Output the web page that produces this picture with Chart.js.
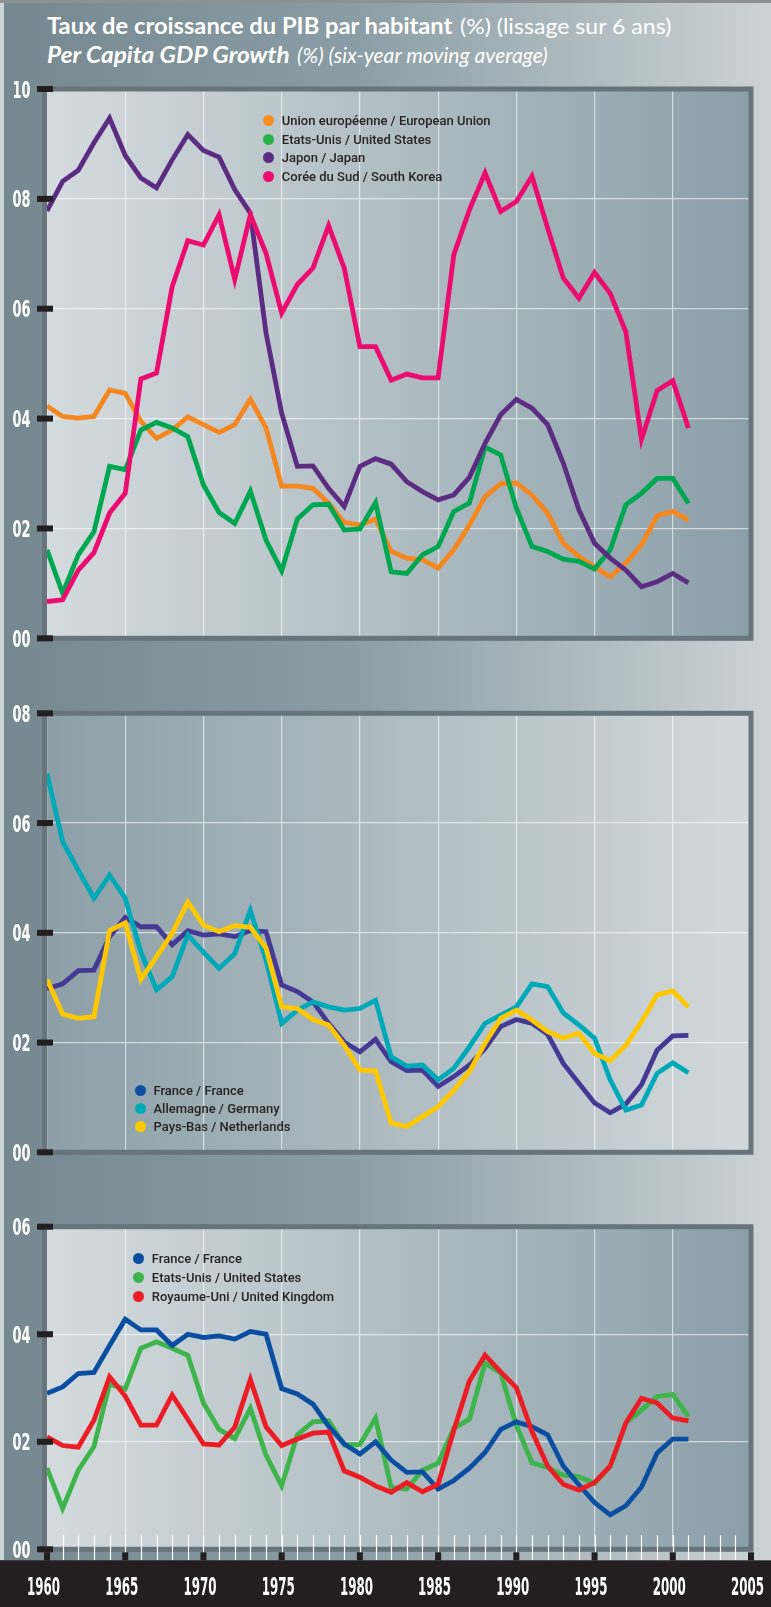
<!DOCTYPE html>
<html>
<head>
<meta charset="utf-8">
<script src="https://cdn.jsdelivr.net/npm/chart.js"></script>
<style>
  body { margin: 0; }
  #page {
    position: relative; width: 771px; height: 1607px; overflow: hidden;
    background: linear-gradient(to right, #75878f 0%, #8a9ca4 45%, #aebac0 75%, #cbd3d6 100%);
  }
  #topline { position: absolute; left: 0; top: 0; width: 771px; height: 3px; background: #8b9194; }
  #leftstrip { position: absolute; left: 0; top: 3px; width: 4px; height: 1557px; background: #cdd4d7; }
  .t { position: absolute; color: #fff; font-family: Lato, "Open Sans", sans-serif; font-size: 22px;
       line-height: 22px; white-space: nowrap; transform-origin: 0 0; }
  canvas { position: absolute; left: 0; }
  .lg { position: absolute; height: 18px; line-height: 18px; white-space: nowrap;
        font-family: Roboto, "Open Sans", sans-serif; font-weight: 500; font-size: 13px; color: #262425; }
  .lg span.dot { display: inline-block; width: 11px; height: 11px; border-radius: 50%;
                 vertical-align: -1px; margin-right: 8px; }
</style>
</head>
<body>
<div id="page">
  <div id="topline"></div>
  <div id="leftstrip"></div>
  <div class="t" id="t1" style="left:47px;top:15px;font-weight:700">Taux de croissance du PIB par habitant</div>
  <div class="t" id="t2" style="left:460px;top:15px;font-weight:400">(%) (lissage sur 6 ans)</div>
  <div class="t" id="t3" style="left:47px;top:44px;font-weight:700;font-style:italic">Per Capita GDP Growth</div>
  <div class="t" id="t4" style="left:297px;top:44px;font-weight:400;font-style:italic">(%) (six-year moving average)</div>
  <canvas id="chart1" width="771" height="610" style="top:60px"></canvas>
  <canvas id="chart2" width="771" height="510" style="top:670px"></canvas>
  <canvas id="chart3" width="771" height="427" style="top:1180px"></canvas>
</div>
<script>
// years shown on the x axis (data runs 1960-2001)
var years = [1960, 1961, 1962, 1963, 1964, 1965, 1966, 1967, 1968, 1969,
  1970, 1971, 1972, 1973, 1974, 1975, 1976, 1977, 1978, 1979,
  1980, 1981, 1982, 1983, 1984, 1985, 1986, 1987, 1988, 1989,
  1990, 1991, 1992, 1993, 1994, 1995, 1996, 1997, 1998, 1999,
  2000, 2001];

// panel 1
var eu = [4.23, 4.04, 4.01, 4.04, 4.52, 4.46, 3.95, 3.64, 3.79, 4.03,
  3.89, 3.75, 3.89, 4.35, 3.83, 2.77, 2.77, 2.73, 2.46, 2.11,
  2.06, 2.17, 1.58, 1.46, 1.43, 1.28, 1.61, 2.06, 2.58, 2.81,
  2.83, 2.61, 2.28, 1.73, 1.49, 1.30, 1.12, 1.37, 1.70, 2.23,
  2.31, 2.15];
var usA = [1.61, 0.82, 1.52, 1.94, 3.13, 3.07, 3.79, 3.93, 3.83, 3.67,
  2.79, 2.29, 2.09, 2.68, 1.79, 1.23, 2.17, 2.43, 2.44, 1.97,
  1.99, 2.47, 1.21, 1.18, 1.52, 1.67, 2.31, 2.46, 3.48, 3.34,
  2.37, 1.67, 1.58, 1.44, 1.40, 1.26, 1.61, 2.43, 2.64, 2.91,
  2.91, 2.46];
var japan = [7.78, 8.32, 8.52, 9.02, 9.47, 8.79, 8.38, 8.20, 8.71, 9.17,
  8.88, 8.76, 8.17, 7.74, 5.56, 4.10, 3.13, 3.14, 2.73, 2.40,
  3.13, 3.27, 3.17, 2.85, 2.67, 2.52, 2.61, 2.93, 3.55, 4.07,
  4.35, 4.19, 3.89, 3.19, 2.34, 1.73, 1.46, 1.24, 0.94, 1.03,
  1.18, 1.01];
var korea = [0.67, 0.70, 1.24, 1.56, 2.28, 2.64, 4.72, 4.83, 6.40, 7.24,
  7.16, 7.71, 6.53, 7.71, 7.01, 5.92, 6.44, 6.74, 7.51, 6.74,
  5.31, 5.31, 4.70, 4.81, 4.74, 4.74, 6.98, 7.80, 8.47, 7.77,
  7.95, 8.41, 7.47, 6.56, 6.19, 6.66, 6.28, 5.58, 3.62, 4.51,
  4.69, 3.83];

// panel 2
var franceB = [2.98, 3.07, 3.31, 3.32, 3.93, 4.28, 4.11, 4.11, 3.78, 4.04,
  3.96, 3.98, 3.93, 4.04, 4.02, 3.05, 2.93, 2.74, 2.35, 2.01,
  1.83, 2.06, 1.65, 1.49, 1.50, 1.20, 1.38, 1.59, 1.89, 2.29,
  2.42, 2.35, 2.15, 1.62, 1.26, 0.90, 0.72, 0.88, 1.23, 1.86,
  2.12, 2.13];
var germany = [6.90, 5.66, 5.14, 4.63, 5.05, 4.63, 3.65, 2.96, 3.20, 3.96,
  3.65, 3.35, 3.62, 4.41, 3.50, 2.35, 2.59, 2.74, 2.65, 2.59,
  2.62, 2.77, 1.74, 1.57, 1.59, 1.32, 1.53, 1.92, 2.35, 2.50,
  2.65, 3.07, 3.02, 2.54, 2.32, 2.08, 1.32, 0.77, 0.86, 1.44,
  1.63, 1.45];
var netherlands = [3.15, 2.52, 2.44, 2.47, 4.04, 4.18, 3.15, 3.56, 3.99, 4.56,
  4.14, 4.02, 4.13, 4.10, 3.72, 2.65, 2.62, 2.42, 2.32, 1.95,
  1.50, 1.48, 0.53, 0.47, 0.65, 0.83, 1.13, 1.47, 1.99, 2.44,
  2.59, 2.41, 2.20, 2.08, 2.17, 1.80, 1.67, 1.95, 2.38, 2.87,
  2.94, 2.65];

// panel 3
var franceC = [2.90, 3.02, 3.27, 3.29, 3.79, 4.28, 4.08, 4.08, 3.79, 4.00,
  3.94, 3.97, 3.91, 4.05, 4.00, 2.99, 2.89, 2.70, 2.29, 1.96,
  1.77, 2.00, 1.66, 1.43, 1.44, 1.12, 1.28, 1.51, 1.80, 2.23,
  2.37, 2.28, 2.13, 1.55, 1.20, 0.87, 0.64, 0.81, 1.16, 1.79,
  2.05, 2.05];
var usC = [1.51, 0.76, 1.47, 1.91, 3.07, 2.98, 3.74, 3.86, 3.74, 3.61,
  2.72, 2.23, 2.06, 2.62, 1.75, 1.18, 2.13, 2.37, 2.39, 1.94,
  1.95, 2.44, 1.15, 1.12, 1.47, 1.60, 2.25, 2.42, 3.46, 3.28,
  2.31, 1.61, 1.52, 1.38, 1.35, 1.23, 1.54, 2.35, 2.59, 2.84,
  2.88, 2.47];
var uk = [2.09, 1.93, 1.90, 2.40, 3.21, 2.85, 2.31, 2.31, 2.87, 2.42,
  1.96, 1.94, 2.27, 3.16, 2.28, 1.93, 2.05, 2.16, 2.18, 1.46,
  1.34, 1.18, 1.06, 1.24, 1.07, 1.21, 2.21, 3.13, 3.61, 3.30,
  3.01, 2.19, 1.55, 1.21, 1.10, 1.24, 1.55, 2.35, 2.81, 2.72,
  2.44, 2.39];

var GRID = "rgba(255,255,255,0.6)";
var INK = "#231f20";

function line(label, values, color, dot, order) {
  return {
    label: label,
    data: values,
    borderColor: color,
    backgroundColor: dot,
    borderWidth: 4.8,
    borderJoinStyle: "miter",
    pointRadius: 0,
    tension: 0,
    fill: false,
    order: order,
  };
}

// squeeze text horizontally so it fits a given width
function squeeze(ctx, text, x, y, w, align) {
  var m = ctx.measureText(text).width;
  ctx.save();
  ctx.translate(x, y);
  ctx.scale(w / m, 1);
  ctx.textAlign = align;
  ctx.fillText(text, 0, 0);
  ctx.restore();
}

var panelPlugin = {
  id: "panel",
  beforeDraw: function (chart, args, opts) {
    var ctx = chart.ctx, a = chart.chartArea;
    var g = ctx.createLinearGradient(a.left, 0, a.right, 0);
    g.addColorStop(0, opts.from);
    g.addColorStop(1, opts.to);
    ctx.save();
    ctx.fillStyle = g;
    ctx.fillRect(a.left, a.top, a.right - a.left, a.bottom - a.top);
    ctx.restore();
  },
  afterDraw: function (chart, args, opts) {
    var ctx = chart.ctx, a = chart.chartArea;
    var xs = chart.scales.x, ys = chart.scales.y;
    ctx.save();
    // frame
    ctx.strokeStyle = "#68747b";
    ctx.lineWidth = 5;
    ctx.strokeRect(a.left - 2.5, a.top, a.right - a.left + 2.5, a.bottom - a.top);

    if (opts.axis) {
      // white year ticks
      ctx.strokeStyle = "#ffffff";
      ctx.lineWidth = 1.2;
      for (var yr = 1961; yr < 2005; yr++) {
        var px = Math.round(xs.getPixelForValue(yr)) + 0.5;
        ctx.beginPath();
        ctx.moveTo(px, a.bottom - 14);
        ctx.lineTo(px, a.bottom + 11);
        ctx.stroke();
      }
      ctx.fillStyle = INK;
      ctx.fillRect(0, a.bottom + 11, chart.width, chart.height - a.bottom - 11);
      ctx.font = "bold 25px 'Liberation Sans Narrow', 'DejaVu Sans Condensed', 'Liberation Sans', sans-serif";
      xs.ticks.forEach(function (t) {
        var px = xs.getPixelForValue(t.value);
        ctx.fillStyle = INK;
        ctx.fillRect(px - 3, a.bottom + 3, 6, 8);
        ctx.fillStyle = "#ffffff";
        squeeze(ctx, String(t.value), px - 3.5, a.bottom + 46, 33, "center");
      });
    }

    // y ticks and labels
    ctx.font = "bold 23px 'Liberation Sans Narrow', 'DejaVu Sans Condensed', 'Liberation Sans', sans-serif";
    ys.ticks.forEach(function (t) {
      var py = ys.getPixelForValue(t.value);
      ctx.fillStyle = INK;
      ctx.fillRect(37, py - 3, 16, 6);
      ctx.fillStyle = "#ffffff";
      var txt = t.value < 10 ? "0" + t.value : String(t.value);
      squeeze(ctx, txt, 30.5, py + 8.5, 18, "right");
    });
    ctx.restore();
  },
};

function makePanel(id, datasets, yMax, from, to, pad, axis) {
  return new Chart(document.getElementById(id), {
    type: "line",
    data: { labels: years, datasets: datasets },
    options: {
      responsive: false,
      animation: false,
      devicePixelRatio: 1,
      layout: { padding: pad },
      plugins: {
        legend: { display: false },
        tooltip: { enabled: false },
        panel: { from: from, to: to, axis: axis },
      },
      scales: {
        x: {
          type: "linear",
          min: 1960,
          max: 2005,
          ticks: { display: false, stepSize: 5 },
          grid: { color: GRID, lineWidth: 1.2, drawTicks: false },
          border: { display: false },
        },
        y: {
          min: 0,
          max: yMax,
          ticks: { display: false, stepSize: 2 },
          grid: { color: GRID, lineWidth: 1.2, drawTicks: false },
          border: { display: false },
        },
      },
    },
    plugins: [panelPlugin],
  });
}

function addLegend(chart, dotX, firstY, step) {
  var page = document.getElementById("page");
  chart.data.datasets.forEach(function (ds, i) {
    var row = document.createElement("div");
    row.className = "lg";
    row.style.left = dotX - 5.5 + "px";
    row.style.top = firstY + i * step - 9 + "px";
    var dot = document.createElement("span");
    dot.className = "dot";
    dot.style.background = ds.backgroundColor;
    row.appendChild(dot);
    row.appendChild(document.createTextNode(ds.label));
    page.appendChild(row);
  });
}

var chart1 = makePanel("chart1", [
  line("Union européenne / European Union", eu, "#f5871f", "#f7901e", 4),
  line("Etats-Unis / United States", usA, "#00a650", "#2bb34a", 3),
  line("Japon / Japan", japan, "#5b2c82", "#5b2c82", 2),
  line("Corée du Sud / South Korea", korea, "#ec0b6e", "#ec0b6e", 1),
], 10, "#d4dbde", "#8b9fa8", { left: 47, right: 20, top: 29, bottom: 31.7 }, false);

var chart2 = makePanel("chart2", [
  line("France / France", franceB, "#443a96", "#0c4ea2", 3),
  line("Allemagne / Germany", germany, "#00a9b8", "#00abb9", 2),
  line("Pays-Bas / Netherlands", netherlands, "#fec800", "#fec800", 1),
], 8, "#8c9fa7", "#d2d9dc", { left: 47, right: 20, top: 43.3, bottom: 27.7 }, false);

var chart3 = makePanel("chart3", [
  line("France / France", franceC, "#0a4ea2", "#0a4ea2", 2),
  line("Etats-Unis / United States", usC, "#3db54a", "#3db54a", 3),
  line("Royaume-Uni / United Kingdom", uk, "#ec1c24", "#ec1c24", 1),
], 6, "#d4dbde", "#8b9fa8", { left: 47, right: 20, top: 46.7, bottom: 57.7 }, true);

addLegend(chart1, 268.3, 121, 18.5);
addLegend(chart2, 140, 1091, 18);
addLegend(chart3, 138.3, 1259, 18.8);

// fit the title pieces to their measured widths
[["t1", 405], ["t2", 211], ["t3", 243], ["t4", 251]].forEach(function (p) {
  var el = document.getElementById(p[0]);
  el.style.transform = "scaleX(" + p[1] / el.offsetWidth + ")";
});
</script>
</body>
</html>
